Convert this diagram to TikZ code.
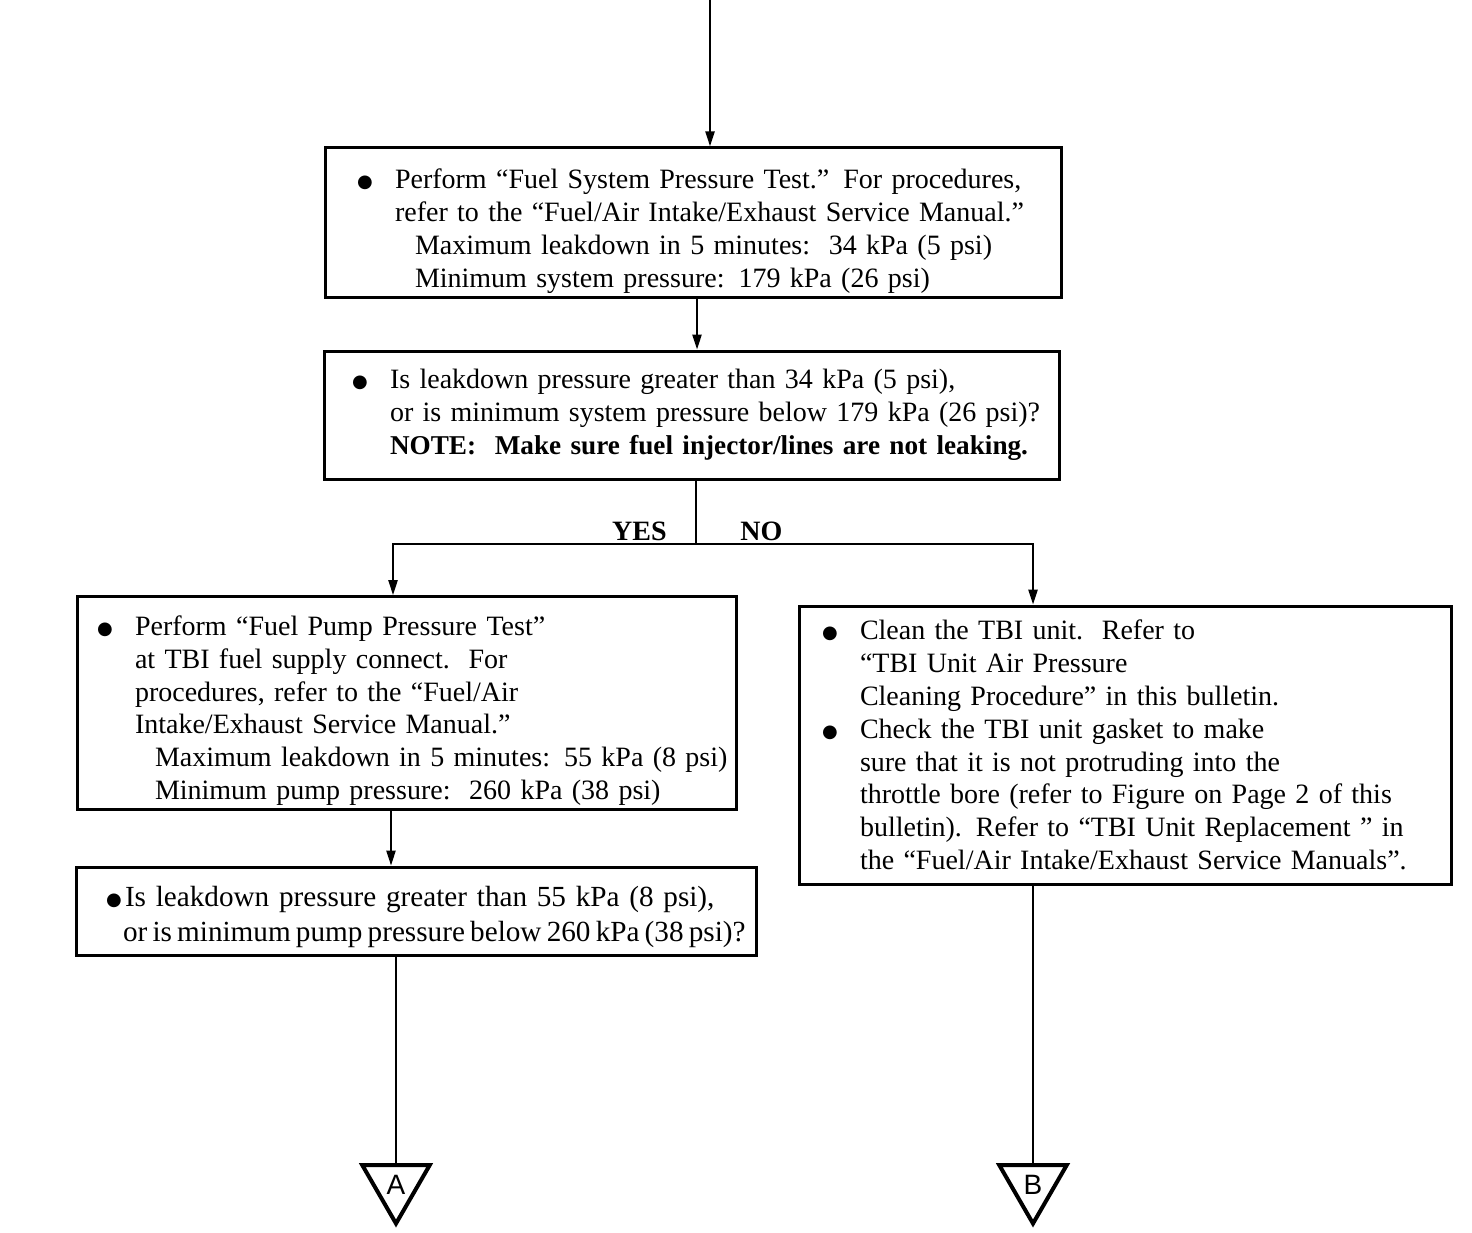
\documentclass[tikz,border=0pt]{standalone}
\usepackage{fontspec}
\setmainfont{Liberation Serif}
\newfontfamily\tagfont{Liberation Sans}
\newfontfamily\symfont{DejaVu Sans}
\newcommand{\dotmark}{\raisebox{0.6pt}{\symfont\fontsize{9}{9}\selectfont ●}}
\usetikzlibrary{arrows.meta, positioning, calc, shapes.geometric}

\begin{document}
\begin{tikzpicture}[
        x=0.5pt, y=-0.5pt,
        stepbox/.style={
            draw,
            line width=1.5pt,
            align=left,
            inner xsep=0pt,
            inner ysep=2pt,
            font=\fontsize{14}{16.4}\selectfont
        },
        flow/.style={
            -{Triangle[length=7.5pt, width=4.6pt]},
            line width=1pt
        },
        link/.style={
            line width=1pt
        },
        offpage/.style={
            draw,
            regular polygon,
            regular polygon sides=3,
            shape border rotate=180,
            minimum size=39pt,
            inner sep=0pt,
            line width=2pt,
            font=\tagfont\fontsize{14}{14}\selectfont
        },
        answer/.style={
            inner sep=0pt,
            font=\bfseries\fontsize{14}{14}\selectfont
        }
    ]

    \useasboundingbox (0,0) rectangle (1472,1232);

    \coordinate (start) at (710,0);

    \node[stepbox, text width=368pt, minimum height=74.5pt] (systest) at (693,222.5) {%
        \rule{0pt}{18.5pt}\hspace*{16pt}\makebox[19pt][l]{\dotmark}Perform “Fuel System Pressure Test.” For procedures,\\
        \hspace*{35pt}refer to the “Fuel/Air Intake/Exhaust Service Manual.”\\
        \hspace*{45pt}Maximum leakdown in 5 minutes:\ \ 34 kPa (5 psi)\\
        \hspace*{45pt}Minimum system pressure: 179 kPa (26 psi)};

    \node[stepbox, text width=367.5pt, minimum height=64pt] (syscheck) at (691.5,415) {%
        \hspace*{14pt}\makebox[19pt][l]{\dotmark}Is leakdown pressure greater than 34 kPa (5 psi),\\
        \hspace*{33pt}or is minimum system pressure below 179 kPa (26 psi)?\\
        \hspace*{33pt}\textbf{\fontsize{13.6}{16.4}\selectfont NOTE:\ \ Make sure fuel injector/lines are not leaking.}};

    \coordinate (c1) at (697,0);
    \draw[flow] (start) -- (start |- systest.north);
    \draw[flow] (c1 |- systest.south) -- (c1 |- syscheck.north);

    % yes / no split
    \coordinate (split) at (696,544);
    \coordinate (yes) at (393,544);
    \coordinate (no) at (1033,544);
    \node[answer, anchor=base east] (yestag) at (667,540) {YES};
    \node[answer, anchor=base west] (notag) at (740,540) {NO};

    \node[stepbox, text width=329.5pt, minimum height=105pt] (pumptest) at (406.5,703) {%
        \rule{0pt}{17.5pt}\hspace*{10pt}\makebox[19pt][l]{\dotmark}Perform “Fuel Pump Pressure Test”\\
        \hspace*{29pt}at TBI fuel supply connect.\ \ For\\
        \hspace*{29pt}procedures, refer to the “Fuel/Air\\
        \hspace*{29pt}Intake/Exhaust Service Manual.”\\
        \hspace*{39pt}Maximum leakdown in 5 minutes: 55 kPa (8 psi)\\
        \hspace*{39pt}Minimum pump pressure:\ \ 260 kPa (38 psi)};

    \node[stepbox, text width=326pt, minimum height=139pt] (clean) at (1125,745) {%
        \hspace*{11.5pt}\makebox[19pt][l]{\dotmark}Clean the TBI unit.\ \ Refer to\\
        \hspace*{30.5pt}“TBI Unit Air Pressure\\
        \hspace*{30.5pt}Cleaning Procedure” in this bulletin.\\
        \hspace*{11.5pt}\makebox[19pt][l]{\dotmark}Check the TBI unit gasket to make\\
        \hspace*{30.5pt}sure that it is not protruding into the\\
        \hspace*{30.5pt}throttle bore (refer to Figure on Page 2 of this\\
        \hspace*{30.5pt}bulletin). Refer to “TBI Unit Replacement ” in\\
        \hspace*{30.5pt}the “Fuel/Air Intake/Exhaust Service Manuals”.};

    \node[stepbox, text width=340pt, minimum height=44pt,
          font=\fontsize{14.6}{17.5}\selectfont] (pumpcheck) at (416,911) {%
        \rule{0pt}{16pt}\hspace*{15pt}\mbox{\makebox[9.5pt][l]{\dotmark}Is leakdown pressure greater than 55 kPa (8 psi),}\\
        \hspace*{23.5pt}\mbox{\spaceskip=2.6pt or is minimum pump pressure below 260 kPa (38 psi)?}};

    \draw[link] (split |- syscheck.south) -- (split);
    \draw[flow] (split) -- (yes) -- (yes |- pumptest.north);
    \draw[flow] (split) -- (no) -- (no |- clean.north);

    \coordinate (c3) at (391,0);
    \draw[flow] (c3 |- pumptest.south) -- (c3 |- pumpcheck.north);

    % off-page connectors
    \node[offpage] (conA) at (396,1184.5) {A};
    \node[offpage] (conB) at (1033,1184.5) {B};

    \draw[link] (conA.north |- pumpcheck.south) -- (conA.north);
    \draw[link] (conB.north |- clean.south) -- (conB.north);

\end{tikzpicture}
\end{document}
